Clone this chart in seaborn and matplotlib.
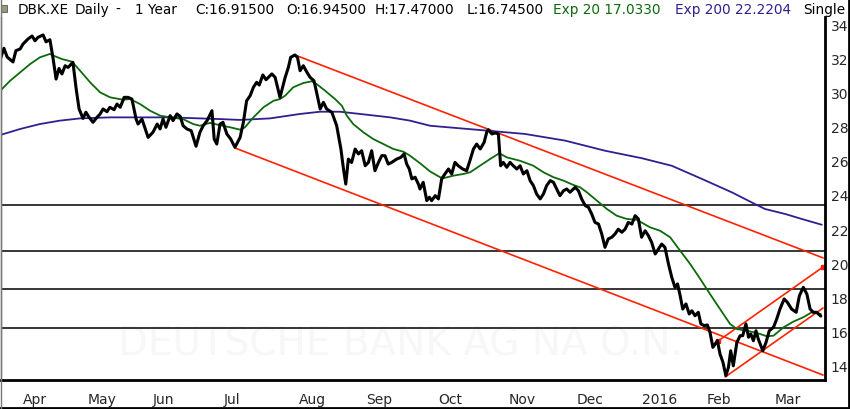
import matplotlib
matplotlib.use("Agg")
import matplotlib.pyplot as plt
from matplotlib.lines import Line2D
from matplotlib.patches import Rectangle
import seaborn as sns

# trading-day index (0 = 23 Mar 2015) and close values
close_day = [0.0, 1.1, 2.1, 3.9, 4.8, 6.1, 7.0, 8.5, 9.8, 10.7, 11.6, 13.2, 14.1, 15.3, 16.3, 17.2,
             18.1, 19.0, 20.0, 20.9, 22.4, 23.4, 24.3, 25.5, 26.4, 27.4, 28.6, 29.8, 30.8, 31.7,
             32.9, 33.8, 35.1, 36.0, 37.0, 38.2, 39.4, 40.6, 41.9, 42.5, 43.7, 45.6, 47.1, 48.4,
             49.3, 50.2, 51.1, 52.4, 53.3, 54.5, 55.5, 56.4, 57.6, 58.9, 60.4, 61.6, 62.6, 63.8,
             65.3, 66.0, 66.8, 67.8, 68.7, 69.9, 71.1, 72.4, 74.0, 75.0, 76.0, 77.1, 78.1, 79.1,
             79.9, 81.0, 82.0, 82.7, 83.8, 84.8, 86.3, 87.9, 88.9, 89.6, 90.9, 91.7, 92.5, 93.5,
             94.6, 95.6, 96.8, 97.6, 98.7, 99.7, 100.7, 102.3, 103.8, 105.1, 105.9, 106.6, 107.4,
             108.4, 109.5, 110.5, 111.5, 112.6, 113.6, 114.6, 115.6, 116.7, 117.7, 118.7, 119.7,
             120.8, 122.3, 123.6, 124.6, 125.4, 126.2, 127.0, 128.0, 129.0, 129.5, 130.5, 131.6,
             132.4, 133.1, 134.2, 135.2, 136.2, 137.2, 138.3, 139.3, 140.3, 141.3, 142.7, 143.9,
             144.9, 146.0, 147.0, 148.1, 149.3, 150.1, 150.6, 151.7, 152.7, 153.7, 154.4, 155.2,
             156.3, 157.3, 158.3, 159.4, 160.4, 161.4, 162.5, 163.5, 164.5, 165.5, 166.6, 167.6,
             168.6, 169.7, 170.7, 171.7, 172.7, 173.8, 174.8, 175.8, 177.4, 178.4, 179.4, 180.5,
             181.5, 182.5, 183.5, 184.6, 185.6, 186.6, 187.6, 188.7, 189.7, 190.7, 191.8, 192.8,
             193.8, 194.9, 195.9, 196.9, 197.9, 199.0, 200.0, 201.0, 202.1, 203.1, 204.1, 205.1,
             206.2, 207.2, 208.2, 209.0, 209.8, 210.6, 211.6, 212.6, 213.4, 214.4, 215.4, 216.2,
             217.2, 218.2, 219.0, 219.9, 220.6, 221.3, 222.1, 223.0, 223.9, 224.7, 225.4, 226.2,
             227.3, 228.3, 229.1, 230.1, 230.9, 231.6, 232.4, 233.2, 233.9, 235.3, 236.3, 237.3,
             238.6, 239.6, 240.6, 241.9, 242.9, 244.2, 245.6, 246.6, 247.8, 248.9, 249.9, 250.9,
             251.9, 253.2]
close_val = [31.95, 32.58, 32.07, 31.78, 32.44, 32.54, 32.83, 33.12, 33.30, 33.02, 33.22, 33.36,
             32.96, 33.08, 31.95, 30.78, 31.40, 31.08, 31.56, 31.46, 31.76, 30.20, 29.03, 28.48,
             28.84, 28.54, 28.25, 28.54, 28.74, 29.03, 28.87, 29.13, 28.99, 29.32, 29.13, 29.71,
             29.71, 29.61, 28.44, 28.15, 28.44, 27.37, 27.67, 28.15, 27.86, 28.44, 27.96, 28.64,
             28.35, 28.74, 28.60, 28.05, 27.86, 27.76, 26.85, 27.67, 28.05, 28.35, 28.93, 27.27,
             26.98, 28.15, 28.25, 27.57, 27.27, 26.79, 27.37, 28.25, 29.51, 29.81, 30.30, 30.59,
             30.43, 31.02, 30.74, 30.88, 31.08, 30.88, 29.71, 30.88, 31.47, 32.05, 32.19, 32.05,
             31.27, 31.56, 31.18, 30.88, 30.68, 30.00, 29.03, 29.42, 29.03, 28.84, 28.05, 26.69,
             25.52, 24.64, 26.10, 25.90, 26.69, 26.40, 26.59, 25.71, 25.91, 26.59, 25.42, 25.91,
             26.30, 26.30, 25.81, 25.91, 26.10, 26.20, 26.40, 25.81, 25.52, 24.94, 25.04, 24.64,
             24.35, 24.74, 23.67, 23.87, 23.67, 23.96, 23.77, 24.94, 25.23, 25.52, 25.23, 25.91,
             25.71, 25.52, 25.42, 26.00, 26.69, 26.98, 26.69, 27.08, 27.67, 27.82, 27.57, 27.63,
             27.57, 25.71, 25.91, 25.62, 25.91, 25.71, 25.52, 25.71, 25.23, 25.42, 24.84, 24.55,
             24.06, 23.77, 24.06, 24.55, 24.84, 24.74, 24.35, 23.96, 24.25, 24.35, 24.16, 24.45,
             24.25, 23.77, 23.38, 23.28, 22.89, 22.40, 22.30, 21.72, 20.94, 21.43, 21.53, 21.72,
             22.00, 21.82, 22.00, 22.40, 22.30, 22.79, 22.60, 21.53, 21.91, 21.62, 21.23, 20.55,
             20.84, 21.13, 20.94, 19.96, 19.19, 18.60, 18.80, 18.11, 17.33, 17.63, 17.04, 17.23,
             16.94, 17.14, 16.46, 16.36, 16.40, 15.97, 15.09, 15.29, 15.48, 14.70, 14.22, 13.43,
             13.92, 14.89, 14.01, 15.38, 15.77, 15.77, 16.46, 15.68, 15.87, 15.48, 16.06, 15.58,
             14.89, 15.38, 16.06, 16.26, 16.75, 17.33, 17.92, 17.72, 17.33, 17.14, 18.11, 18.60,
             18.21, 17.33, 17.14, 17.14, 16.92]

# Exp 20 moving average
ema20_day = [0.0, 3.0, 6.1, 9.2, 12.2, 15.3, 16.9, 19.0, 22.1, 24.6, 27.7, 30.8, 33.9, 37.9, 40.0,
             43.1, 46.2, 49.3, 52.4, 56.4, 59.5, 61.6, 64.7, 67.8, 70.9, 74.0, 75.5, 78.1, 81.2,
             84.3, 86.3, 87.9, 90.4, 93.5, 96.1, 97.6, 100.2, 103.3, 105.4, 106.9, 108.9, 112.0,
             115.1, 118.2, 121.3, 124.4, 126.4, 129.5, 132.6, 135.7, 136.7, 139.8, 142.9, 145.0,
             148.0, 151.1, 154.0, 156.3, 160.4, 164.5, 167.6, 170.7, 173.8, 176.8, 178.9, 181.0,
             184.1, 187.2, 190.2, 193.3, 196.4, 200.5, 203.6, 206.7, 209.8, 212.9, 216.0, 219.0,
             222.1, 225.2, 227.3, 230.4, 233.5, 236.5, 238.6, 241.7, 244.7, 247.8, 250.4, 253.2]
ema20_val = [30.10, 30.68, 31.17, 31.66, 32.05, 32.25, 32.11, 31.95, 31.80, 31.27, 30.59, 30.00,
             29.71, 29.57, 29.61, 29.32, 28.93, 28.64, 28.54, 28.44, 28.15, 28.05, 28.22, 28.08,
             27.96, 27.82, 27.96, 28.54, 29.13, 29.51, 29.61, 29.81, 30.30, 30.55, 30.65, 30.49,
             30.10, 29.61, 29.22, 28.64, 28.15, 27.67, 27.27, 26.98, 26.69, 26.53, 26.30, 25.86,
             25.38, 25.04, 24.98, 25.13, 25.23, 25.33, 25.71, 26.10, 26.44, 26.20, 26.00, 25.71,
             25.33, 25.04, 24.84, 24.59, 24.45, 24.16, 23.67, 23.18, 22.79, 22.60, 22.55, 22.11,
             21.91, 21.53, 20.74, 19.96, 19.09, 18.21, 17.33, 16.46, 16.16, 16.06, 15.93, 15.74,
             15.77, 16.26, 16.59, 16.85, 17.14, 17.04]

# Exp 200 moving average
ema200_day = [0.0, 6.1, 12.2, 18.4, 24.6, 33.9, 43.1, 52.4, 58.5, 67.8, 74.0, 83.2, 92.5, 98.7,
              104.8, 111.0, 120.3, 126.4, 132.6, 150.5, 161.9, 174.3, 186.6, 198.0, 207.2, 216.5,
              225.7, 232.9, 236.0, 242.2, 247.3, 253.5]
ema200_val = [27.51, 27.86, 28.15, 28.35, 28.48, 28.54, 28.54, 28.54, 28.50, 28.44, 28.39, 28.48,
              28.74, 28.87, 28.87, 28.74, 28.54, 28.35, 28.05, 27.76, 27.57, 27.18, 26.59, 26.15,
              25.71, 24.94, 24.16, 23.47, 23.18, 22.89, 22.60, 22.26]

# drawn trend channels: (start day, start price, end day, end price)
trend_lines = [(90.9, 32.19, 253.9, 20.32),
               (72.4, 26.75, 253.9, 13.47),
               (221.5, 15.46, 253.9, 19.79),
               (223.7, 13.36, 253.9, 17.39)]
support_levels = [23.42, 20.72, 18.50, 16.22]

month_days = [7, 27, 47, 69, 92, 113, 135, 157, 178, 198, 218, 239]
month_labels = ["Apr", "May", "Jun", "Jul", "Aug", "Sep", "Oct", "Nov", "Dec", "2016", "Feb", "Mar"]
price_ticks = [14, 16, 18, 20, 22, 24, 26, 28, 30, 32, 34]

sns.set_style("white")
plt.rcParams['font.family'] = ['DejaVu Sans']

fig = plt.figure(figsize=(8.5, 4.1), dpi=100)
ax = fig.add_axes([1 / 850, 29 / 410, 824 / 850, 363 / 410])

# faint watermark
ax.text(0.142, 0.10, "DEUTSCHE BANK AG NA O.N.", transform=ax.transAxes, fontsize=28,
        color="#f7f7f7", va="center", ha="left", zorder=0)

for lvl in support_levels:
    ax.axhline(lvl, color="black", linewidth=1.1, zorder=1)

for x0, y0, x1, y1 in trend_lines:
    ax.plot([x0, x1], [y0, y1], color="#ff2200", linewidth=1.2, zorder=2)
ax.plot([trend_lines[2][0], trend_lines[2][2]], [trend_lines[2][1], trend_lines[2][3]],
        linestyle="none", marker="s", markersize=2.2, color="#ff2200", zorder=2)

sns.lineplot(x=ema200_day, y=ema200_val, ax=ax, color="#2f1f8f", linewidth=1.3, zorder=3)
sns.lineplot(x=ema20_day, y=ema20_val, ax=ax, color="#0c6a0c", linewidth=1.3, zorder=4)
sns.lineplot(x=close_day, y=close_val, ax=ax, color="black", linewidth=2.2, zorder=5)

ax.set_xlim(0.2, 254.5)
ax.set_ylim(13.18, 34.41)

ax.set_xticks(month_days)
ax.set_xticklabels(month_labels, ha="left", fontsize=10)
ax.tick_params(axis="x", direction="out", length=6, width=1.6, color="black", pad=3)

ax.yaxis.tick_right()
ax.set_yticks(price_ticks)
ax.set_yticklabels([str(t) for t in price_ticks], fontsize=10)
ax.tick_params(axis="y", length=0, pad=4)

ax.spines["top"].set_visible(False)
ax.spines["left"].set_color("#888888")
ax.spines["left"].set_linewidth(1.0)
ax.spines["bottom"].set_color("black")
ax.spines["bottom"].set_linewidth(2.0)
ax.spines["right"].set_color("black")
ax.spines["right"].set_linewidth(2.0)
ax.set_xlabel("")
ax.set_ylabel("")

# header line
hy = 1 - 10 / 410
header = [(18, "DBK.XE", "black"),
          (75, "Daily", "black"),
          (115, "-", "black"),
          (135, "1 Year", "black"),
          (195, "C:16.91500", "black"),
          (286, "O:16.94500", "black"),
          (375, "H:17.47000", "black"),
          (467, "L:16.74500", "black"),
          (553, "Exp 20 17.0330", "#0c6a0c"),
          (675, "Exp 200 22.2204", "#2f1f8f"),
          (803, "Single", "black")]
for px, txt, col in header:
    fig.text(px / 850, hy, txt, fontsize=9.8, color=col, va="center", ha="left")

fig.add_artist(Rectangle((0.5 / 850, 1 - 13 / 410), 6 / 850, 7 / 410, transform=fig.transFigure,
                         facecolor="#9a9a7a", edgecolor="#555555", linewidth=0.6))
fig.add_artist(Line2D([848.5 / 850, 848.5 / 850], [0, 1 - 1 / 410], color="black", linewidth=2))
fig.add_artist(Line2D([0, 1], [1.5 / 410, 1.5 / 410], color="black", linewidth=2))
fig.add_artist(Line2D([0.6 / 850, 0.6 / 850], [0, 1], color="#777777", linewidth=1))

fig.savefig("out.png", dpi=100)
